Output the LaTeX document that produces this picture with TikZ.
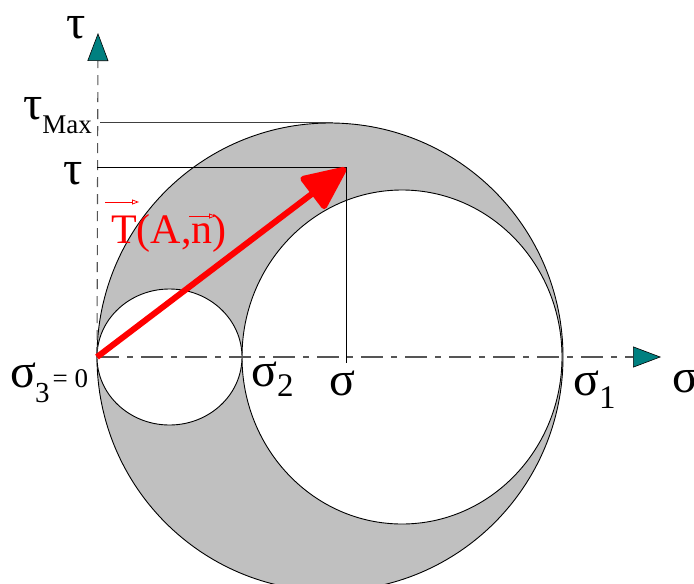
\documentclass[tikz,border=0pt]{standalone}
\usepackage{fontspec}
\setmainfont{Liberation Serif}
\usetikzlibrary{arrows.meta}
\definecolor{areagray}{HTML}{C0C0C0}
\definecolor{tealtip}{HTML}{008080}
\definecolor{axisgray}{HTML}{555555}
\newcommand\lblbig{\fontsize{42}{42}\selectfont}
\newcommand\lblgreek{\fontsize{48}{48}\selectfont}
\newcommand\lblsub{\fontsize{33}{33}\selectfont}
\newcommand\lblsubb{\fontsize{29}{29}\selectfont}
\newcommand\lblmid{\fontsize{27}{27}\selectfont}
\newcommand\lblmax{\fontsize{27}{27}\selectfont}
\tikzset{
  circ/.style={draw=black, line width=0.9pt},
  axisline/.style={draw=axisgray, line width=1.1pt},
  axtip/.style={-{Triangle[length=28pt,width=21pt,fill=tealtip,color=black,line width=0.6pt]}},
  guide/.style={draw=black, line width=0.9pt},
  redarrow/.style={draw=red, line width=6pt, -{Triangle[length=48pt,width=42pt,round]}},
  vecarrow/.style={draw=red, line width=0.8pt, -{Triangle[open,length=7pt,width=5pt]}},
  lbl/.style={inner sep=0pt, anchor=base west}
}
\begin{document}
\begin{tikzpicture}[x=1pt,y=-1pt]
\useasboundingbox (0,0) rectangle (694,584);
\clip (0,0) rectangle (694,584);
% circles
\draw[circ, fill=areagray] (330,357) ellipse [x radius=233, y radius=234];
\draw[circ, fill=white] (402,357) ellipse [x radius=160, y radius=167];
\draw[circ, fill=white] (169.5,357) ellipse [x radius=72.5, y radius=68];
% coordinates
\coordinate (O) at (97,357);
\coordinate (xend) at (661,357);
\coordinate (yend) at (98,33);
\coordinate (P) at (346,168);
\coordinate (Pax) at (346,363);
\coordinate (Ptau) at (97,167);
\coordinate (Pt) at (346,167);
\coordinate (Mtau) at (100,122);
\coordinate (Mx) at (333,122);
% axes
\draw[axisline, dash pattern=on 22pt off 8pt on 6pt off 8pt, axtip] (O) -- (xend);
\draw[axisline, dash pattern=on 10pt off 7pt, axtip] (O) -- (yend);
% guide lines
\draw[guide] (Ptau) -- (Pt) -- (Pax);
\draw[guide, draw=black!75] (Mtau) -- (Mx);
% stress vector
\draw[redarrow] (O) -- (P);
% labels
\node[lbl] (tauaxis) at (66,38) {\lblgreek τ};
\node[lbl] (taumax) at (23,119) {\lblgreek τ\raisebox{-14pt}{\lblmax Max}};
\node[lbl] (tau) at (63,184) {\lblgreek τ};
\node[lbl, text=red] (Tvec) at (111,243) {\lblbig T(A,n)};
\draw[vecarrow] (105,202) -- (139,202);
\draw[vecarrow] (189,216) -- (216,216);
\node[lbl] (s3) at (10,387) {\lblgreek σ\kern-1pt\raisebox{-15pt}{\lblsubb 3}\kern3pt{\lblmid = 0}};
\node[lbl] (s2) at (251,386) {\lblgreek σ\raisebox{-10pt}{\lblsub 2}};
\node[lbl] (s) at (329,395) {\lblgreek σ};
\node[lbl] (s1) at (573,395) {\lblgreek σ\raisebox{-13pt}{\lblsub 1}};
\node[lbl] (saxis) at (672,392) {\lblgreek σ};
\end{tikzpicture}
\end{document}
